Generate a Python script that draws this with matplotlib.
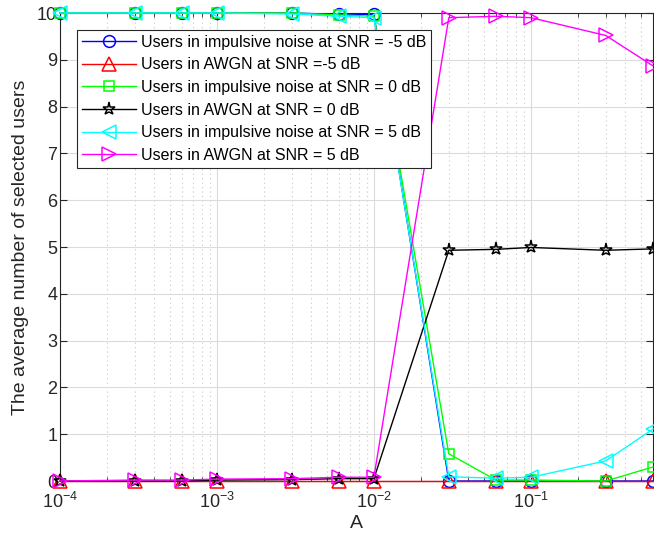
import numpy as np
import matplotlib
matplotlib.use('Agg')
import matplotlib.pyplot as plt
from matplotlib.ticker import LogLocator, NullFormatter

plt.rcParams['font.family'] = ['Liberation Sans', 'DejaVu Sans']

# 01 Data
A = [1e-4, 3e-4, 6e-4, 1e-3, 3e-3, 6e-3, 1e-2, 3e-2, 6e-2, 1e-1, 3e-1, 6e-1]

ImpulsiveM5 = [10, 10, 10, 10, 10, 9.97, 9.97, 0.0, 0.0, 0.0, 0.0, 0.0]
AwgnM5 = [0, 0, 0, 0, 0, 0, 0, 0, 0, 0, 0, 0]
Impulsive0 = [10, 10, 10, 10, 10, 9.96, 9.93, 0.58, 0.02, 0.02, 0.0, 0.30]
Awgn0 = [0, 0.0, 0.0, 0.02, 0.03, 0.05, 0.05, 4.93, 4.95, 4.99, 4.93, 4.96]
Impulsive5 = [10, 10, 10, 10, 9.98, 9.93, 9.9, 0.09, 0.06, 0.08, 0.43, 1.11]
Awgn5 = [0, 0.02, 0.02, 0.04, 0.05, 0.08, 0.08, 9.9, 9.93, 9.9, 9.52, 8.87]

Labels = ['Users in impulsive noise at SNR = -5 dB',
          'Users in AWGN at SNR =-5 dB',
          'Users in impulsive noise at SNR = 0 dB',
          'Users in AWGN at SNR = 0 dB',
          'Users in impulsive noise at SNR = 5 dB',
          'Users in AWGN at SNR = 5 dB']

# 02 Plot
Figure = plt.figure(figsize=(6.54, 5.37), dpi=100)
Axes = Figure.add_axes([60/654, 1-481/537, 593/654, 468/537])

Series = [(ImpulsiveM5, 'b', 'o'), (AwgnM5, 'r', '^'), (Impulsive0, (0, 1, 0), 's'),
          (Awgn0, 'k', '*'), (Impulsive5, (0, 1, 1), '<'), (Awgn5, (1, 0, 1), '>')]
Sizes = {'o': 8.5, '^': 10, 's': 7.5, '*': 9.5, '<': 10, '>': 10}
for (Values, Color, Marker), Label in zip(Series, Labels):
    Axes.plot(A, Values, color=Color, marker=Marker, markersize=Sizes[Marker],
              markerfacecolor='none', markeredgewidth=1.1, linewidth=1.0,
              label=Label, clip_on=False, zorder=3)

Axes.set_xscale('log')
Axes.set_xlim([1e-4, 0.6])
Axes.set_ylim([0, 10])
Axes.set_yticks(range(0, 11))
Axes.xaxis.set_major_locator(LogLocator(base=10, numticks=10))
Axes.xaxis.set_minor_locator(LogLocator(base=10, subs=np.arange(2, 10), numticks=20))
Axes.xaxis.set_minor_formatter(NullFormatter())

Axes.grid(True, which='major', color=(0.86, 0.86, 0.86), linewidth=0.8, linestyle='-')
Axes.grid(True, which='minor', axis='x', color=(0.78, 0.78, 0.78), linewidth=0.8, linestyle=(0, (1, 3)))
Axes.set_axisbelow(True)

Axes.tick_params(which='both', direction='in', top=True, right=True, labelsize=13,
                 colors=(0.15, 0.15, 0.15))
Axes.tick_params(which='major', length=5)
Axes.tick_params(which='minor', length=3)
Axes.tick_params(axis='x', which='major', pad=8)
Axes.tick_params(axis='y', which='major', pad=2)
for Spine in Axes.spines.values():
    Spine.set_color((0.15, 0.15, 0.15))
    Spine.set_linewidth(0.8)

Axes.set_xlabel('A', fontsize=14, color=(0.15, 0.15, 0.15), labelpad=2)
Axes.set_ylabel('The average number of selected users', fontsize=14, color=(0.15, 0.15, 0.15),
                labelpad=6)

Legend = Axes.legend(loc='upper left', bbox_to_anchor=(0.029, 0.964), borderaxespad=0,
                     fontsize=11.5, fancybox=False, edgecolor=(0.15, 0.15, 0.15), framealpha=1,
                     handlelength=3.4, labelspacing=0.48, borderpad=0.3, handletextpad=0.3)
Legend.get_frame().set_linewidth(0.8)
Legend.set_zorder(5)

Figure.savefig('out.png', dpi=100)
